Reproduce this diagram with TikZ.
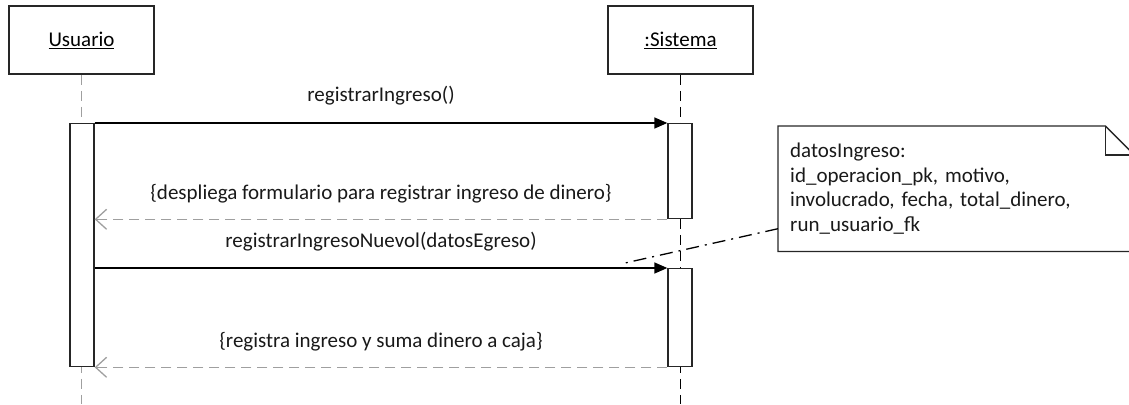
\documentclass[tikz,border=0pt]{standalone}
\usepackage{fontspec}
\setmainfont{Carlito}
\usetikzlibrary{arrows.meta}

\begin{document}
\begin{tikzpicture}[x=1pt,y=-1pt,font=\fontsize{21}{24.7}\selectfont,
  head/.style={draw=black!85,line width=1.5pt,minimum width=145pt,minimum height=68pt,inner sep=0pt},
  act/.style={draw=black!85,fill=white,line width=1.3pt,minimum width=24pt,inner sep=0pt},
  lifeline/.style={line width=1.3pt,dash pattern=on 10pt off 6pt},
  call/.style={line width=1.3pt,-{Triangle[length=13pt,width=11pt]}},
  reply/.style={gray!75,line width=1.3pt,dash pattern=on 10pt off 6pt,-{Straight Barb[length=11pt,width=20pt,line width=1.3pt]}},
  msg/.style={midway,yshift=27pt,text=black!90}]
  \useasboundingbox (0,0) rectangle (1129,404);
  % lifeline heads
  \node[head] (usuario) at (81.5,40) {\underline{Usuario}};
  \node[head] (sistema) at (680.5,40) {\underline{:Sistema}};
  \coordinate (ufin) at (82,404);
  \coordinate (sfin) at (680,404);
  \draw[lifeline,gray!75] (usuario.south) -- (usuario.south |- ufin);
  \draw[lifeline,black] (sistema.south) -- (sistema.south |- sfin);
  % activations
  \node[act,minimum height=243pt,anchor=north] (uact) at (82,123) {};
  \node[act,minimum height=95pt,anchor=north] (sact1) at (680,123) {};
  \node[act,minimum height=98pt,anchor=north] (sact2) at (680,268) {};
  % messages
  \draw[call] (uact.north east) -- (sact1.north west) node[msg] {registrarIngreso()};
  \draw[reply] (sact1.south west) -- (uact.east |- sact1.south west)
    node[msg,yshift=-1pt] {\{despliega formulario para registrar ingreso de dinero\}};
  \draw[call] (uact.east |- sact2.north west) -- (sact2.north west)
    node[msg,yshift=-1pt] {registrarIngresoNuevol(datosEgreso)};
  \draw[reply] (sact2.south west) -- (uact.south east)
    node[msg,yshift=-1pt] {\{registra ingreso y suma dinero a caja\}};
  % note
  \node[anchor=north west,minimum width=356pt,minimum height=125pt,text width=332pt,
    align=left,inner xsep=12pt,text=black!90] (nota) at (778,126)
    {datosIngreso:\\ id\_operacion\_pk, motivo,\\ involucrado, fecha, total\_dinero,\\ run\_usuario\_fk};
  \draw[draw=black!85,line width=1.3pt] (nota.north west) -- ([xshift=-29pt]nota.north east)
    -- ([yshift=-29pt]nota.north east) -- (nota.south east) -- (nota.south west) -- cycle;
  \draw[draw=black!85,line width=1.3pt] ([xshift=-29pt]nota.north east)
    -- ([xshift=-29pt,yshift=-29pt]nota.north east) -- ([yshift=-29pt]nota.north east);
  \coordinate (ancla) at (625,263);
  \draw[line width=1.3pt,dash pattern=on 13pt off 6pt on 2pt off 6pt] ([yshift=-40pt]nota.west) -- (ancla);
\end{tikzpicture}
\end{document}
